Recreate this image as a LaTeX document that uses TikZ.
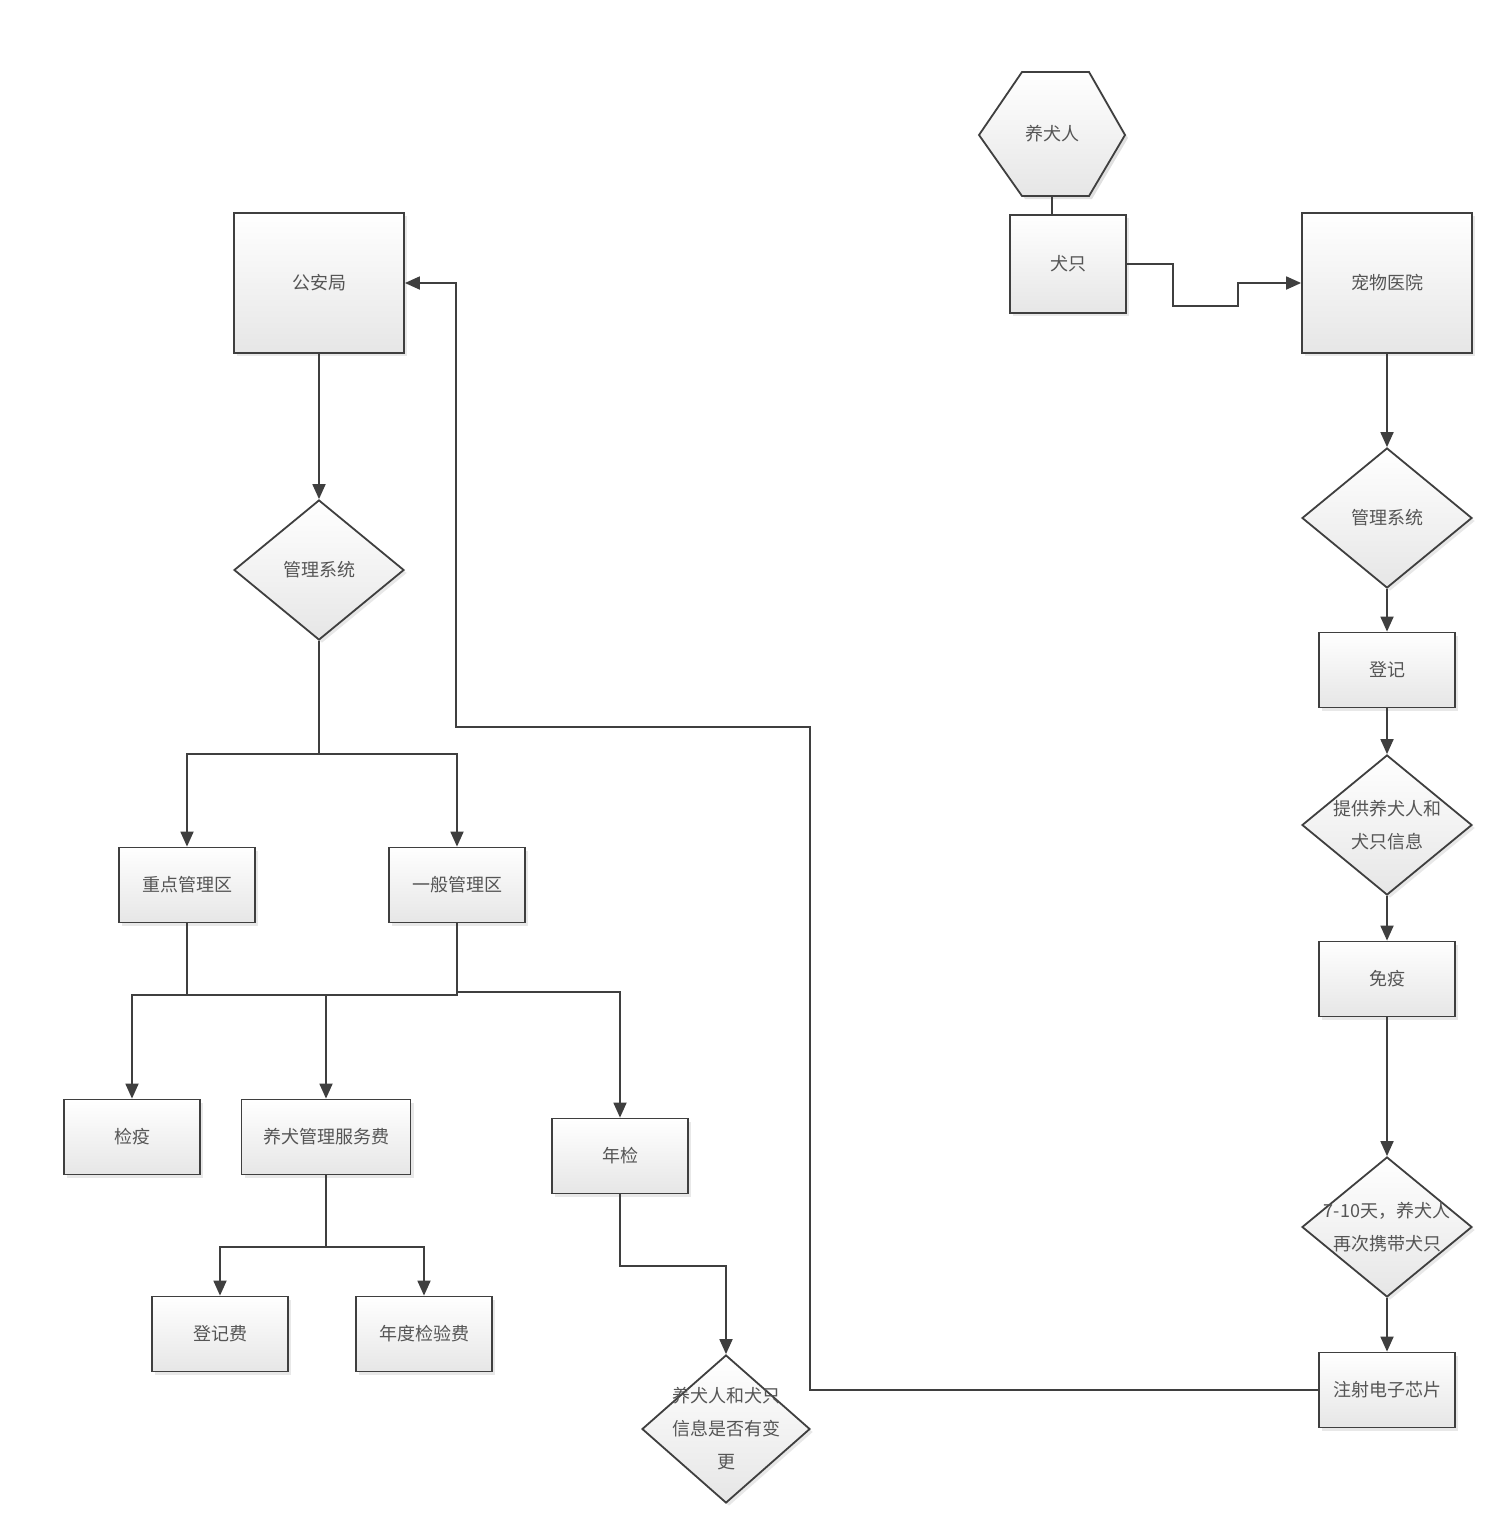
\documentclass[tikz,border=0pt]{standalone}
\usepackage{fontspec}
\newfontfamily\cjk{Noto Sans CJK SC}
\usetikzlibrary{arrows.meta,shapes.geometric,shadows}
\definecolor{linec}{HTML}{3F3F3F}
\definecolor{txtc}{HTML}{555555}
\definecolor{fillb}{HTML}{E6E6E6}
\tikzset{
  base/.style={draw=linec, line width=1.8pt, top color=white, bottom color=fillb,
    text=txtc, font=\cjk\fontsize{18}{33}\selectfont, align=center, inner sep=0pt,
    drop shadow={opacity=0.18, shadow xshift=3pt, shadow yshift=-3pt}},
  box/.style={base, rectangle, minimum width=136pt, minimum height=75pt},
  bigbox/.style={base, rectangle, minimum width=170pt, minimum height=140pt},
  dia/.style={base, diamond, minimum width=170pt, minimum height=140pt},
  dtext/.style={text=txtc, font=\cjk\fontsize{18}{33}\selectfont, align=center, inner sep=0pt},
  conn/.style={draw=linec, line width=1.8pt},
  arr/.style={conn, -{Triangle[length=15pt,width=13pt]}},
}
\begin{document}
\begin{tikzpicture}[x=1pt,y=-1pt]
\useasboundingbox[fill=white] (0,0) rectangle (1508,1520);

% hexagon
\fill[black,opacity=0.12] (1025,75) -- (1092,75) -- (1128,138) -- (1092,199) -- (1025,199) -- (982,138) -- cycle;
\draw[linec, line width=1.8pt, top color=white, bottom color=fillb]
  (1022,72) -- (1089,72) -- (1125,135) -- (1089,196) -- (1022,196) -- (979,135) -- cycle;
\node[dtext, minimum width=146pt, minimum height=124pt] (owner) at (1052,134) {养犬人};

% nodes
\node[box, minimum width=116pt, minimum height=98pt] (dog) at (1068,264) {犬只};
\node[bigbox] (hosp) at (1387,283) {宠物医院};
\node[bigbox] (gab) at (319,283) {公安局};

\node[dia] (sysr) at (1387,518) {管理系统};
\node[box] (reg) at (1387,670) {登记};
\node[dia] (info) at (1387,825) {};
\node[dtext] at (info) {提供养犬人和\\犬只信息};
\node[box] (imm) at (1387,979) {免疫};
\node[dia] (again) at (1387,1227) {};
\node[dtext] at (again) {7-10天，养犬人\\再次携带犬只};
\node[box] (chip) at (1387,1390) {注射电子芯片};

\node[dia] (sysl) at (319,570) {管理系统};
\node[box] (key) at (187,885) {重点管理区};
\node[box] (gen) at (457,885) {一般管理区};
\node[box] (quar) at (132,1137) {检疫};
\node[box, minimum width=169pt] (fee) at (326,1137) {养犬管理服务费};
\node[box] (annual) at (620,1156) {年检};
\node[box] (regfee) at (220,1334) {登记费};
\node[box] (annfee) at (424,1334) {年度检验费};
\node[dia, minimum width=168pt, minimum height=148pt] (chg) at (726,1429) {};
\node[dtext] at (chg) {养犬人和犬只\\信息是否有变\\更};

% connectors right
\draw[conn] (owner.south) -- (owner.south |- dog.north);
\draw[arr] (dog.east) -- (1173,264) -- (1173,306) -- (1238,306) -- (1238,283) -- (hosp.west);
\draw[arr] (hosp.south) -- (sysr.north);
\draw[arr] (sysr.south) -- (reg.north);
\draw[arr] (reg.south) -- (info.north);
\draw[arr] (info.south) -- (imm.north);
\draw[arr] (imm.south) -- (again.north);
\draw[arr] (again.south) -- (chip.north);
\draw[arr] (chip.west) -- (810,1390) -- (810,727) -- (456,727) -- (456,283) -- (gab.east);

% connectors left
\draw[arr] (gab.south) -- (sysl.north);
\draw[conn] (sysl.south) -- (319,754) coordinate (j1);
\draw[arr] (j1) -- (187,754) -- (key.north);
\draw[arr] (j1) -- (457,754) -- (gen.north);
\draw[conn] (key.south) -- (187,995) coordinate (j2);
\draw[conn] (gen.south) -- (457,995) -- (j2);
\draw[arr] (j2) -- (132,995) -- (quar.north);
\draw[arr] (326,995) -- (fee.north);
\draw[arr] (457,992) -- (620,992) -- (annual.north);
\draw[conn] (fee.south) -- (326,1247) coordinate (j3);
\draw[arr] (j3) -- (220,1247) -- (regfee.north);
\draw[arr] (j3) -- (424,1247) -- (annfee.north);
\draw[arr] (annual.south) -- (620,1266) -- (726,1266) -- (chg.north);
\end{tikzpicture}
\end{document}
